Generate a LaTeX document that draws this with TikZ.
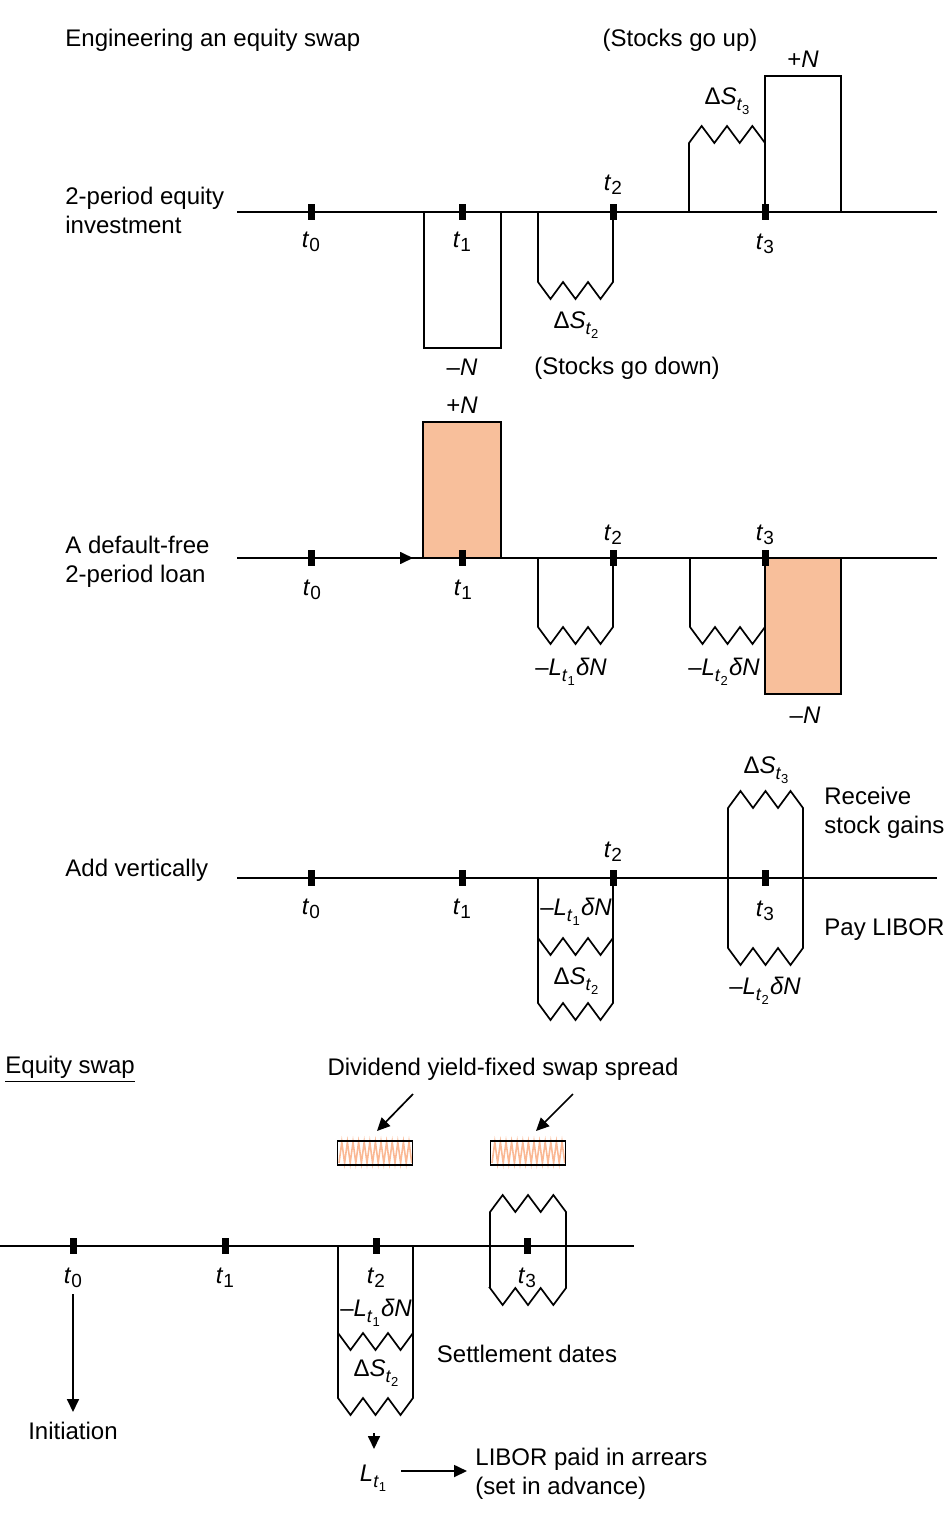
\documentclass[tikz,border=0pt]{standalone}
\usepackage{fontspec}
\setmainfont{Liberation Sans}
\usetikzlibrary{arrows.meta}
\definecolor{salm}{RGB}{248,191,155}
\definecolor{salmline}{RGB}{250,184,148}
\newcommand\tlab[1]{\textit{t}\raisebox{-0.35ex}{\fontsize{9.5}{9.5}\selectfont #1}}
\newcommand\subt[1]{\raisebox{-0.45ex}{\fontsize{9}{9}\selectfont\textit{t}\raisebox{-0.4ex}{\fontsize{6.5}{6.5}\selectfont #1}}}
\newcommand\dS[1]{Δ\textit{S}\subt{#1}}
\newcommand\mLdN[1]{–\textit{L}\subt{#1}\kern0.05em\textit{δN}}
\tikzset{
  every node/.style={font=\fontsize{12}{14.5}\selectfont, inner sep=0pt},
  tickmark/.style={fill=black, draw=none, minimum width=3.5pt, minimum height=8pt, inner sep=0pt},
  lin/.style={line width=0.85pt, black},
  arr/.style={line width=0.85pt, -{Triangle[length=6.5pt,width=6pt]}},
  salmbox/.style={lin, fill=salm},
  hatch/.style={line width=0.8pt, salmline},
}
\begin{document}
\begin{tikzpicture}[x=0.5pt,y=-0.5pt]
\useasboundingbox (0,0) rectangle (951,1518);

% ---------------- Panel 1 ----------------
\node[anchor=west] (title) at (65,40) {Engineering an equity swap};
\node (up) at (680,40) {(Stocks go up)};
\node[anchor=west, align=left] (lab1) at (65,210) {2-period equity\\investment};
\coordinate (a1l) at (237,212);
\coordinate (a1r) at (937,212);
\draw[lin] (a1l) -- (a1r);
\draw[lin] (424,212) rectangle (501,348);
\draw[lin] (538,212) -- (538,282) \foreach \k in {1,2,3} {-- ++(12.5,17) -- ++(12.5,-17)} -- (613,212);
\draw[lin] (689,212) -- (689,143) \foreach \k in {1,2,3} {-- ++(12.67,-17) -- ++(12.67,17)} -- (765,212);
\draw[lin] (765,76) rectangle (841,212);
\node[tickmark] (p1t0) at (311,212) {};
\node[tickmark] (p1t1) at (462,212) {};
\node[tickmark] (p1t2) at (613,212) {};
\node[tickmark] (p1t3) at (765,212) {};
\node (p1l0) at (311,242) {\tlab{0}};
\node (p1l1) at (462,242) {\tlab{1}};
\node (p1l2) at (613,185) {\tlab{2}};
\node (p1l3) at (765,244) {\tlab{3}};
\node (p1pn) at (803,59) {+\textit{N}};
\node (p1ds3) at (727,101) {\dS{3}};
\node (p1mn) at (462,367) {–\textit{N}};
\node (p1ds2) at (576,325) {\dS{2}};
\node (down) at (627,368) {(Stocks go down)};

% ---------------- Panel 2 ----------------
\node[anchor=west, align=left] (lab2) at (65,562) {A default-free\\2-period loan};
\coordinate (a2l) at (237,558);
\coordinate (a2m) at (413,558);
\coordinate (a2r) at (937,558);
\draw[lin] (a2l) -- (a2r);
\draw[arr] (a2l) -- (a2m);
\draw[salmbox] (423,422) rectangle (501,558);
\draw[lin] (538,558) -- (538,627) \foreach \k in {1,2,3} {-- ++(12.5,17) -- ++(12.5,-17)} -- (613,558);
\draw[lin] (690,558) -- (690,627) \foreach \k in {1,2,3} {-- ++(12.5,17) -- ++(12.5,-17)} -- (765,558);
\draw[salmbox] (765,558) rectangle (841,694);
\node[tickmark] (p2t0) at (311,558) {};
\node[tickmark] (p2t1) at (462,558) {};
\node[tickmark] (p2t2) at (613,558) {};
\node[tickmark] (p2t3) at (765,558) {};
\node (p2l0) at (312,590) {\tlab{0}};
\node (p2l1) at (463,590) {\tlab{1}};
\node (p2l2) at (613,535) {\tlab{2}};
\node (p2l3) at (765,535) {\tlab{3}};
\node (p2pn) at (462,405) {+\textit{N}};
\node (p2l1n) at (571,672) {\mLdN{1}};
\node (p2l2n) at (724,672) {\mLdN{2}};
\node (p2mn) at (805,715) {–\textit{N}};

% ---------------- Panel 3 ----------------
\node[anchor=west] (lab3) at (65,870) {Add vertically};
\coordinate (a3l) at (237,878);
\coordinate (a3r) at (937,878);
\draw[lin] (a3l) -- (a3r);
\draw[lin] (538,878) -- (538,1003) \foreach \k in {1,2,3} {-- ++(12.5,17) -- ++(12.5,-17)} -- (613,878);
\draw[lin] (538,938) \foreach \k in {1,2,3} {-- ++(12.5,17) -- ++(12.5,-17)};
\draw[lin] (728,948) -- (728,808) \foreach \k in {1,2,3} {-- ++(12.5,-17) -- ++(12.5,17)} -- (803,948) \foreach \k in {1,2,3} {-- ++(-12.5,17) -- ++(-12.5,-17)} -- cycle;
\node[tickmark] (p3t0) at (311,878) {};
\node[tickmark] (p3t1) at (462,878) {};
\node[tickmark] (p3t2) at (613,878) {};
\node[tickmark] (p3t3) at (765,878) {};
\node (p3l0) at (311,909) {\tlab{0}};
\node (p3l1) at (462,909) {\tlab{1}};
\node (p3l2) at (613,852) {\tlab{2}};
\node (p3l3) at (765,911) {\tlab{3}};
\node (p3ds3) at (766,770) {\dS{3}};
\node (p3l1n) at (576,912) {\mLdN{1}};
\node (p3ds2) at (576,981) {\dS{2}};
\node (p3l2n) at (765,991) {\mLdN{2}};
\node[anchor=west, align=left] (recv) at (824,813) {Receive\\stock gains};
\node[anchor=west] (pay) at (824,930) {Pay LIBOR};

% ---------------- Panel 4 ----------------
\node[anchor=west] (lab4) at (5,1069) {\underline{Equity swap}};
\node (divy) at (503,1069) {Dividend yield-fixed swap spread};
\draw[hatch] (339,1163) \foreach \k in {1,...,13} {-- ++(2.8,-21) -- ++(2.8,21)};
\draw[hatch] (492,1163) \foreach \k in {1,...,13} {-- ++(2.8,-21) -- ++(2.8,21)};
\node[draw, lin, minimum width=37.5pt, minimum height=12pt] (hb1) at (375,1153) {};
\node[draw, lin, minimum width=37.5pt, minimum height=12pt] (hb2) at (528,1153) {};
\coordinate (s1) at (413,1094);
\coordinate (e1) at (377,1131);
\coordinate (s2) at (573,1094);
\coordinate (e2) at (536,1131);
\draw[arr] (s1) -- (e1);
\draw[arr] (s2) -- (e2);
\coordinate (a4l) at (0,1246);
\coordinate (a4r) at (634,1246);
\draw[lin] (a4l) -- (a4r);
\draw[lin] (338,1246) -- (338,1398) \foreach \k in {1,2,3} {-- ++(12.5,17) -- ++(12.5,-17)} -- (413,1246);
\draw[lin] (338,1333) \foreach \k in {1,2,3} {-- ++(12.5,17) -- ++(12.5,-17)};
\draw[lin] (490,1288) -- (490,1212) \foreach \k in {1,2,3} {-- ++(12.67,-17) -- ++(12.67,17)} -- (566,1288) \foreach \k in {1,2,3} {-- ++(-12.67,17) -- ++(-12.67,-17)} -- cycle;
\node[tickmark] (p4t0) at (73,1246) {};
\node[tickmark] (p4t1) at (225,1246) {};
\node[tickmark] (p4t2) at (376,1246) {};
\node[tickmark] (p4t3) at (527,1246) {};
\node (p4l0) at (73,1278) {\tlab{0}};
\node (p4l1) at (225,1278) {\tlab{1}};
\node (p4l2) at (376,1278) {\tlab{2}};
\node (p4l3) at (527,1278) {\tlab{3}};
\node (p4l1n) at (376,1313) {\mLdN{1}};
\node (p4ds2) at (376,1373) {\dS{2}};
\node (settle) at (527,1354) {Settlement dates};
\node (init) at (73,1431) {Initiation};
\coordinate (i0) at (73,1294);
\coordinate (i1) at (73,1412);
\draw[arr] (i0) -- (i1);
\node (lt1) at (373,1478) {\textit{L}\subt{1}};
\node[anchor=west, align=left] (libor) at (475,1474) {LIBOR paid in arrears\\(set in advance)};
\coordinate (sm0) at (374,1433);
\coordinate (sm1) at (374,1449);
\draw[arr] (sm0) -- (sm1);
\coordinate (lb0) at (401,1471);
\coordinate (lb1) at (467,1471);
\draw[arr] (lb0) -- (lb1);
\end{tikzpicture}
\end{document}
